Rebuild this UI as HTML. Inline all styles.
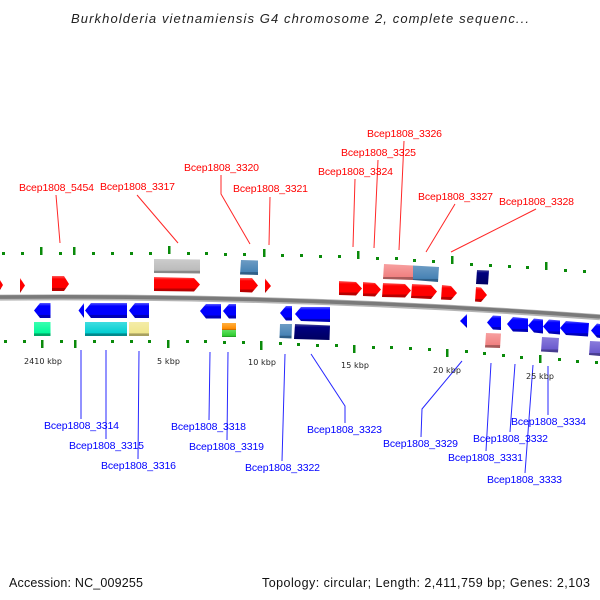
<!DOCTYPE html>
<html><head><meta charset="utf-8"><style>
html,body{margin:0;padding:0;background:#fff;width:600px;height:600px;overflow:hidden}
svg{display:block}
text{font-family:"Liberation Sans","DejaVu Sans",sans-serif}
.r{font-size:10.5px;fill:#f00}
.b{font-size:10.5px;fill:#00f}
.k{font-size:8px;fill:#222;font-family:"DejaVu Sans",sans-serif}
.f{font-size:12.5px;fill:#111}
</style></head><body>
<svg width="600" height="600" viewBox="0 0 600 600" xmlns="http://www.w3.org/2000/svg">
<defs>
<linearGradient id="red" x1="0" y1="0" x2="0" y2="1"><stop offset="0" stop-color="#ff5a5a"/><stop offset=".2" stop-color="#f00"/><stop offset=".78" stop-color="#f00"/><stop offset=".8" stop-color="#b80000"/><stop offset="1" stop-color="#b80000"/></linearGradient>
<linearGradient id="blue" x1="0" y1="0" x2="0" y2="1"><stop offset="0" stop-color="#5a5aff"/><stop offset=".2" stop-color="#00f"/><stop offset=".78" stop-color="#00f"/><stop offset=".8" stop-color="#0000b8"/><stop offset="1" stop-color="#0000b8"/></linearGradient>
<linearGradient id="grey" x1="0" y1="0" x2="0" y2="1"><stop offset="0" stop-color="#ccc"/><stop offset=".8" stop-color="#bbb"/><stop offset=".82" stop-color="#888"/><stop offset="1" stop-color="#888"/></linearGradient>
<linearGradient id="steel" x1="0" y1="0" x2="0" y2="1"><stop offset="0" stop-color="#6d9cc4"/><stop offset=".8" stop-color="#4682b4"/><stop offset=".82" stop-color="#2f5f88"/><stop offset="1" stop-color="#2f5f88"/></linearGradient>
<linearGradient id="pink" x1="0" y1="0" x2="0" y2="1"><stop offset="0" stop-color="#f7a0a0"/><stop offset=".8" stop-color="#f08080"/><stop offset=".82" stop-color="#a85a5a"/><stop offset="1" stop-color="#a85a5a"/></linearGradient>
<linearGradient id="navy" x1="0" y1="0" x2="0" y2="1"><stop offset="0" stop-color="#4a4a98"/><stop offset=".2" stop-color="#000080"/><stop offset="1" stop-color="#000060"/></linearGradient>
<linearGradient id="spring" x1="0" y1="0" x2="0" y2="1"><stop offset="0" stop-color="#3affb0"/><stop offset=".8" stop-color="#00fa9a"/><stop offset=".82" stop-color="#00a868"/><stop offset="1" stop-color="#00a868"/></linearGradient>
<linearGradient id="cyan" x1="0" y1="0" x2="0" y2="1"><stop offset="0" stop-color="#40dde0"/><stop offset=".8" stop-color="#00ced1"/><stop offset=".82" stop-color="#008a8d"/><stop offset="1" stop-color="#008a8d"/></linearGradient>
<linearGradient id="khaki" x1="0" y1="0" x2="0" y2="1"><stop offset="0" stop-color="#f4eca8"/><stop offset=".8" stop-color="#f0e68c"/><stop offset=".82" stop-color="#a8a060"/><stop offset="1" stop-color="#a8a060"/></linearGradient>
<linearGradient id="slate" x1="0" y1="0" x2="0" y2="1"><stop offset="0" stop-color="#8a7cdc"/><stop offset=".8" stop-color="#6a5acd"/><stop offset=".82" stop-color="#483d90"/><stop offset="1" stop-color="#483d90"/></linearGradient>
<linearGradient id="orange" x1="0" y1="0" x2="0" y2="1"><stop offset="0" stop-color="#ffb040"/><stop offset=".8" stop-color="#ff8c00"/><stop offset="1" stop-color="#b06000"/></linearGradient>
<linearGradient id="green" x1="0" y1="0" x2="0" y2="1"><stop offset="0" stop-color="#60e060"/><stop offset=".8" stop-color="#32cd32"/><stop offset="1" stop-color="#208a20"/></linearGradient>
</defs>

<text x="71" y="23" font-size="13" font-style="italic" fill="#222" textLength="458" lengthAdjust="spacing">Burkholderia vietnamiensis G4 chromosome 2, complete sequenc...</text>

<!-- backbone -->
<path d="M0,297.6 Q300,295.1 600,317.3" fill="none" stroke="#b4b4b4" stroke-width="6"/>
<path d="M0,297.1 Q300,294.6 600,316.8" fill="none" stroke="#7a7a7a" stroke-width="3.6"/>

<!-- top ticks -->
<g fill="#0a8a0a">
<rect x="2" y="252" width="3" height="3"/><rect x="21" y="252" width="3" height="3"/><rect x="59" y="252" width="3" height="3"/><rect x="92" y="252" width="3" height="3"/><rect x="111" y="252" width="3" height="3"/><rect x="130" y="252" width="3" height="3"/><rect x="149" y="252" width="3" height="3"/><rect x="187" y="252" width="3" height="3"/>
<rect x="205" y="252" width="3" height="3"/><rect x="224" y="253" width="3" height="3"/><rect x="243" y="253" width="3" height="3"/><rect x="281" y="254" width="3" height="3"/><rect x="300" y="254" width="3" height="3"/><rect x="319" y="255" width="3" height="3"/><rect x="338" y="255" width="3" height="3"/><rect x="376" y="257" width="3" height="3"/><rect x="395" y="257" width="3" height="3"/>
<rect x="413" y="259" width="3" height="3"/><rect x="432" y="260" width="3" height="3"/><rect x="470" y="263" width="3" height="3"/><rect x="489" y="264" width="3" height="3"/><rect x="508" y="265" width="3" height="3"/><rect x="526" y="266" width="3" height="3"/><rect x="564" y="269" width="3" height="3"/><rect x="583" y="270" width="3" height="3"/>
<rect x="40" y="247" width="2.5" height="8"/><rect x="73" y="247" width="2.5" height="8"/><rect x="168" y="246" width="2.5" height="8"/><rect x="263" y="249" width="2.5" height="8"/><rect x="357" y="251" width="2.5" height="8"/><rect x="451" y="256" width="2.5" height="8"/><rect x="545" y="262" width="2.5" height="8"/>
<!-- bottom ticks -->
<rect x="4" y="340" width="3" height="3"/><rect x="23" y="340" width="3" height="3"/><rect x="60" y="340" width="3" height="3"/><rect x="93" y="340" width="3" height="3"/><rect x="111" y="340" width="3" height="3"/><rect x="130" y="340" width="3" height="3"/><rect x="148" y="340" width="3" height="3"/><rect x="186" y="340" width="3" height="3"/>
<rect x="204" y="340" width="3" height="3"/><rect x="223" y="341" width="3" height="3"/><rect x="242" y="341" width="3" height="3"/><rect x="279" y="342" width="3" height="3"/><rect x="297" y="343" width="3" height="3"/><rect x="316" y="344" width="3" height="3"/><rect x="335" y="344" width="3" height="3"/><rect x="372" y="346" width="3" height="3"/><rect x="390" y="346" width="3" height="3"/>
<rect x="409" y="347" width="3" height="3"/><rect x="428" y="348" width="3" height="3"/><rect x="465" y="350" width="3" height="3"/><rect x="483" y="352" width="3" height="3"/><rect x="502" y="354" width="3" height="3"/><rect x="520" y="356" width="3" height="3"/><rect x="558" y="358" width="3" height="3"/><rect x="576" y="360" width="3" height="3"/><rect x="595" y="361" width="3" height="3"/>
<rect x="41" y="340" width="2.5" height="8"/><rect x="74" y="340" width="2.5" height="8"/><rect x="167" y="340" width="2.5" height="8"/><rect x="260" y="341" width="2.5" height="9"/><rect x="353" y="345" width="2.5" height="8"/><rect x="446" y="349" width="2.5" height="8"/><rect x="539" y="355" width="2.5" height="8"/>
</g>

<!-- colored boxes -->
<polygon points="154,259 200,259.5 200,273.5 154,273" fill="url(#grey)"/>
<polygon points="241,260 258,260.5 258,275 240,274.5" fill="url(#steel)"/>
<polygon points="384,264 413,265.5 413,280 383,279" fill="url(#pink)"/>
<polygon points="413,265.5 439,267 438,282 413,280" fill="url(#steel)"/>
<polygon points="477,270 489,270.5 488,284.5 476,284" fill="url(#navy)"/>
<rect x="34" y="322" width="16.500" height="14" fill="url(#spring)"/>
<rect x="85" y="322" width="42" height="14" fill="url(#cyan)"/>
<rect x="129" y="322" width="20" height="14" fill="url(#khaki)"/>
<rect x="222" y="323" width="14" height="7" fill="url(#orange)"/>
<rect x="222" y="330" width="14" height="7" fill="url(#green)"/>
<polygon points="280,324 292,324 291.500,338.500 279.500,338" fill="url(#steel)"/>
<polygon points="295,324 330,325.500 329.500,340 294,339" fill="url(#navy)"/>
<polygon points="486,333 501,333.500 500,348 485,347.500" fill="url(#pink)"/>
<polygon points="542,337 559,338 558,352.500 541,351.500" fill="url(#slate)"/>
<polygon points="590,341 600,341.500 600,356 589,355" fill="url(#slate)"/>

<!-- red genes -->
<polygon points="0,280 3,285 0,290" fill="url(#red)"/>
<polygon points="20,278 25,285.500 20,293" fill="url(#red)"/>
<polygon points="52,276 64,276 69,284 64,291 52,291" fill="url(#red)"/>
<polygon points="154,277 194,278 200,284.500 194,291.500 154,291" fill="url(#red)"/>
<polygon points="240,278 252,278 258,285.500 252,292.500 240,292" fill="url(#red)"/>
<polygon points="265,278.500 271,286 265,293" fill="url(#red)"/>
<polygon points="339,281 356,282 362,288.500 356,295.500 339,295" fill="url(#red)"/>
<polygon points="363,282 375,283 381,289.500 375,296.500 363,296" fill="url(#red)"/>
<polygon points="383,283 405,284 411,290.500 405,297.500 382,297" fill="url(#red)"/>
<polygon points="412,284 431,285 437,291.500 431,299 411,298" fill="url(#red)"/>
<polygon points="442,285 451,286 457,293 451,300 441,299.500" fill="url(#red)"/>
<polygon points="476,287 481,287.500 487,295 481,302 475,301.500" fill="url(#red)"/>

<!-- blue genes -->
<polygon points="50.500,303 40,303 34,310.500 40,318 50.500,318" fill="url(#blue)"/>
<polygon points="84,303 78.500,310.500 84,318" fill="url(#blue)"/>
<polygon points="127,303 91,303 85,310.500 91,318 127,318" fill="url(#blue)"/>
<polygon points="149,303 135,303 129,310.500 135,318 149,318" fill="url(#blue)"/>
<polygon points="221,304 206,304 200,311 206,318.500 221,318.500" fill="url(#blue)"/>
<polygon points="236,304 229,304 223,311 229,318.500 236,318.500" fill="url(#blue)"/>
<polygon points="292,306 286,306 280,313 286,320.500 292,320.500" fill="url(#blue)"/>
<polygon points="330,307 301,307 295,314 301,321 330,322" fill="url(#blue)"/>
<polygon points="467,314 460,321 467,328" fill="url(#blue)"/>
<polygon points="501,316 493,315.500 487,322.500 493,329.500 501,330" fill="url(#blue)"/>
<polygon points="528,318.500 513,317 507,324 513,331.500 528,332" fill="url(#blue)"/>
<polygon points="543,319.500 534,318.500 528,325.500 534,332.500 543,333.500" fill="url(#blue)"/>
<polygon points="560,320.500 549,319.500 543,326.500 549,333.500 560,334.500" fill="url(#blue)"/>
<polygon points="589,323 566,321 560,328 566,335 588,336.500" fill="url(#blue)"/>
<polygon points="600,324 597,323.500 591,330.500 597,337.500 600,338" fill="url(#blue)"/>

<!-- leader lines -->
<g fill="none" stroke="#f00" stroke-width="1" opacity=".85">
<path d="M56,195L60,243M137,195L178,243M221,175V194L250,244M270,197L269,245M355,179L353,247M378,160L374,248M404,141L399,250M455,204L426,252M536,209L451,252"/>
</g>
<g fill="none" stroke="#00f" stroke-width="1" opacity=".85">
<path d="M81,350V419M106,350V439M139,351L138,459M210,352L209,420M228,352L227,440M285,354L282,461M311,354L345,406V423M462,361L422,409L421,437M491,363L486,451M515,364L510,432M533,365L525,473M548,366V415"/>
</g>

<!-- labels -->
<text class="r" x="19" y="191" textLength="75" lengthAdjust="spacing">Bcep1808_5454</text>
<text class="r" x="100" y="190" textLength="75" lengthAdjust="spacing">Bcep1808_3317</text>
<text class="r" x="184" y="171" textLength="75" lengthAdjust="spacing">Bcep1808_3320</text>
<text class="r" x="233" y="192" textLength="75" lengthAdjust="spacing">Bcep1808_3321</text>
<text class="r" x="318" y="175" textLength="75" lengthAdjust="spacing">Bcep1808_3324</text>
<text class="r" x="341" y="156" textLength="75" lengthAdjust="spacing">Bcep1808_3325</text>
<text class="r" x="367" y="137" textLength="75" lengthAdjust="spacing">Bcep1808_3326</text>
<text class="r" x="418" y="200" textLength="75" lengthAdjust="spacing">Bcep1808_3327</text>
<text class="r" x="499" y="205" textLength="75" lengthAdjust="spacing">Bcep1808_3328</text>

<text class="b" x="44" y="429" textLength="75" lengthAdjust="spacing">Bcep1808_3314</text>
<text class="b" x="69" y="449" textLength="75" lengthAdjust="spacing">Bcep1808_3315</text>
<text class="b" x="101" y="469" textLength="75" lengthAdjust="spacing">Bcep1808_3316</text>
<text class="b" x="171" y="430" textLength="75" lengthAdjust="spacing">Bcep1808_3318</text>
<text class="b" x="189" y="450" textLength="75" lengthAdjust="spacing">Bcep1808_3319</text>
<text class="b" x="245" y="471" textLength="75" lengthAdjust="spacing">Bcep1808_3322</text>
<text class="b" x="307" y="433" textLength="75" lengthAdjust="spacing">Bcep1808_3323</text>
<text class="b" x="383" y="447" textLength="75" lengthAdjust="spacing">Bcep1808_3329</text>
<text class="b" x="448" y="461" textLength="75" lengthAdjust="spacing">Bcep1808_3331</text>
<text class="b" x="473" y="442" textLength="75" lengthAdjust="spacing">Bcep1808_3332</text>
<text class="b" x="487" y="483" textLength="75" lengthAdjust="spacing">Bcep1808_3333</text>
<text class="b" x="511" y="425" textLength="75" lengthAdjust="spacing">Bcep1808_3334</text>

<text class="k" x="24" y="364" textLength="38" lengthAdjust="spacing">2410 kbp</text>
<text class="k" x="157" y="364" textLength="23" lengthAdjust="spacing">5 kbp</text>
<text class="k" x="248" y="365" textLength="28" lengthAdjust="spacing">10 kbp</text>
<text class="k" x="341" y="368" textLength="28" lengthAdjust="spacing">15 kbp</text>
<text class="k" x="433" y="373" textLength="28" lengthAdjust="spacing">20 kbp</text>
<text class="k" x="526" y="379" textLength="28" lengthAdjust="spacing">25 kbp</text>

<text class="f" x="9" y="587" textLength="134" lengthAdjust="spacing">Accession: NC_009255</text>
<text class="f" x="262" y="587" textLength="328" lengthAdjust="spacing">Topology: circular; Length: 2,411,759 bp; Genes: 2,103</text>
</svg>
</body></html>
